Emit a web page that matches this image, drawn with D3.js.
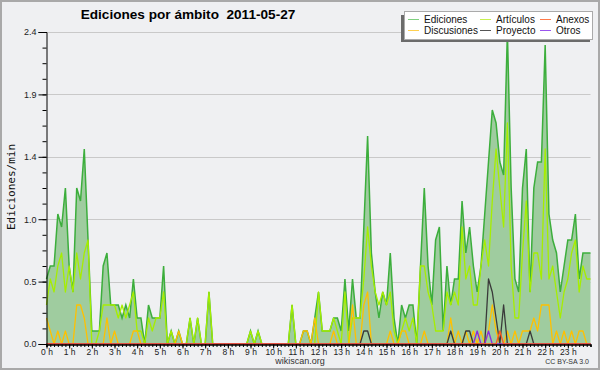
<!DOCTYPE html>
<html><head><meta charset="utf-8">
<script src="https://cdn.jsdelivr.net/npm/d3@7"></script>
<style>body{margin:0;background:#eff0f2}svg{display:block}</style>
</head><body>
<svg id="c" width="600" height="370"></svg>
<script>
const title = "Ediciones por ámbito  2011-05-27";
const hourLabels = d3.range(24).map(h => h + " h");
const yTickLabels = ["0.0","0.5","1.0","1.4","1.9","2.4"];
const seriesNames = ["Ediciones","Artículos","Anexos","Discusiones","Proyecto","Otros"];

const ediciones = [
0.5,0.6,0.6,1.0,0.9,1.2,0.6,0.4,1.2,1.1,1.5,0.8,
0.1,0.1,0.1,0.6,0.7,0.3,0.3,0.3,0.2,0.3,0.2,0.5,
0.2,0.2,0.0,0.3,0.2,0.2,0.2,0.6,0.0,0.1,0.0,0.1,
0,0,0.2,0,0.2,0,0,0.4,0,0,0,0,
0,0,0,0,0,0,0.1,0,0.1,0,0,0,
0,0,0,0,0,0.3,0,0,0.1,0.1,0,0.2,
0.4,0.1,0.1,0.1,0.2,0.2,0.1,0.5,0.1,0.5,0.2,0.2,
0.9,1.6,0.7,0.4,0.2,0.4,0.3,0.7,0.2,0.0,0.3,0.2,
0.3,0.3,0.0,0.6,1.2,0.6,0.3,0.8,0.9,0.1,0.6,0.3,
0.5,0.5,1.1,0.7,0.9,0.6,0.4,0.6,1.0,1.4,1.8,1.7,
1.4,1.3,2.4,1.2,0.5,0.4,1.2,1.5,0.4,1.2,1.4,1.4,
2.3,1.0,0.8,0.7,0.4,0.6,0.8,0.8,1.0,0.5,0.7,0.7,0.7];

const articulos = [
0.3,0.5,0.4,0.6,0.7,0.4,0.6,0.4,0.7,0.5,0.7,0.8,
0,0,0.1,0.3,0.3,0.3,0.3,0.2,0.3,0.2,0.3,0.4,
0.1,0.1,0,0.2,0.1,0.2,0.2,0.4,0,0.1,0,0,
0,0,0.2,0,0.2,0,0,0.4,0,0,0,0,
0,0,0,0,0,0,0.1,0,0.1,0,0,0,
0,0,0,0,0,0.3,0,0,0,0,0,0,
0.4,0.1,0.1,0.1,0.2,0.1,0,0.4,0,0.2,0.2,0.2,
0.5,0.9,0.6,0.4,0.3,0.4,0.3,0.4,0.1,0,0.1,0.2,
0.1,0.2,0,0.6,0.6,0.4,0.3,0.1,0.1,0.1,0.4,0.3,
0.4,0.3,0.9,0.5,0.6,0.3,0.3,0.6,0.8,0.6,1.1,1.5,
1.2,0.9,1.7,0.6,0.2,0.2,0.7,1.1,0.4,0.7,0.7,0.5,
1.5,0.5,0.6,0.4,0.2,0.4,0.5,0.7,0.8,0.4,0.6,0.5,0.5];

const discusiones = [
0.2,0.1,0,0.1,0,0.1,0,0,0.3,0.3,0.2,0,
0,0,0,0,0.2,0,0.1,0,0,0,0,0.1,
0.1,0,0,0,0,0,0,0,0,0,0,0.1,
0,0,0,0,0,0,0,0,0,0,0,0,
0,0,0,0,0,0,0,0,0,0,0,0,
0,0,0,0,0,0,0,0,0.1,0.1,0,0.2,
0,0,0,0,0.1,0,0,0,0,0.3,0,0,
0.3,0.4,0,0,0,0,0,0.1,0,0,0.1,0.1,
0,0,0,0,0.1,0,0,0,0,0,0,0.2,
0,0.1,0,0.1,0,0.1,0,0.1,0,0.1,0.3,0.1,
0,0,0.1,0,0.1,0,0.1,0.1,0.1,0.2,0.1,0.3,
0.3,0.3,0,0.1,0,0.1,0,0.1,0,0.1,0.1,0,0];

const proyecto = [
0,0,0,0,0,0,0,0,0,0,0,0,
0,0,0,0,0,0,0,0,0,0,0,0,
0,0,0,0,0,0,0,0,0,0,0,0,
0,0,0,0,0,0,0,0,0,0,0,0,
0,0,0,0,0,0,0,0,0,0,0,0,
0,0,0,0,0,0,0,0,0,0,0,0,
0,0,0,0,0,0,0,0,0,0,0,0,
0.1,0.1,0,0,0,0,0,0,0,0,0,0,
0,0,0,0,0,0,0,0,0,0,0,0.1,
0,0,0,0.1,0.1,0,0,0,0,0.5,0.4,0.2,
0,0.3,0,0,0,0,0,0,0.1,0,0,0,
0,0,0,0,0,0,0,0,0,0,0,0,0];

const otros = [
0,0,0,0,0,0,0,0,0,0,0,0,
0,0,0,0,0,0,0,0,0,0,0,0,
0,0,0,0,0,0,0,0,0,0,0,0,
0,0,0,0,0,0,0,0,0,0,0,0,
0,0,0,0,0,0,0,0,0,0,0,0,
0,0,0,0,0,0,0,0,0,0,0,0,
0,0,0,0,0,0,0,0,0,0,0,0,
0,0,0,0,0,0,0,0,0,0,0,0,
0,0,0,0,0,0,0,0,0,0,0,0,
0,0,0,0,0,0,0.1,0,0,0.1,0,0,
0,0,0,0,0,0,0,0,0,0,0,0,
0,0,0,0,0,0,0,0,0,0,0,0,0];

const anexos = [
0,0,0,0,0,0,0,0,0,0,0,0,
0,0,0,0,0,0,0,0,0,0,0,0,
0,0,0,0,0,0,0,0,0,0,0,0,
0,0,0,0,0,0,0,0,0,0,0,0,
0,0,0,0,0,0,0,0,0,0,0,0,
0,0,0,0,0,0,0,0,0,0,0,0,
0,0,0,0,0,0,0,0,0,0,0,0,
0,0,0,0,0,0,0,0,0,0,0,0,
0,0,0,0,0,0,0,0,0,0,0,0,
0,0,0,0,0,0,0,0,0,0,0,0,
0.1,0,0,0,0,0,0,0,0,0,0,0,
0,0,0,0,0,0,0,0,0,0,0,0,0];

const colors = {
  Ediciones:"#3cae3c", EdicionesFill:"#9fcc9f", Articulos:"#a6ee00",
  Anexos:"#ff5a1e", Discusiones:"#ffc000", Proyecto:"#3a3a3a", Otros:"#8a2be2"
};

const svg = d3.select("#c");
const W=600,H=370;
svg.append("rect").attr("x",1).attr("y",1).attr("width",W-2).attr("height",H-2)
  .attr("fill","#eff0f2").attr("stroke","#a9a9a9").attr("stroke-width",2);

const x = d3.scaleLinear().domain([0,144]).range([46.5,590.5]);
const y = d3.scaleLinear().domain([0,2.4]).range([344,32]);
const font = "'Liberation Sans', Arial, sans-serif";

// grid
const majorY = d3.range(6).map(k => k*0.48);
svg.append("g").selectAll("line").data(majorY).join("line")
  .attr("x1",46.5).attr("x2",590.5).attr("y1",d=>Math.round(y(d))+0.5).attr("y2",d=>Math.round(y(d))+0.5)
  .attr("stroke","#c9c9c9").attr("stroke-width",1);

// area + lines
const area = d3.area().x((d,i)=>x(i)).y0(y(0)).y1(d=>y(d));
const line = d3.line().x((d,i)=>x(i)).y(d=>y(d));
svg.append("path").datum(ediciones).attr("d",area).attr("fill",colors.EdicionesFill);
svg.append("path").datum(ediciones).attr("d",line).attr("fill","none").attr("stroke",colors.Ediciones).attr("stroke-width",1.5);
const others = [[articulos,colors.Articulos],[discusiones,colors.Discusiones],[proyecto,colors.Proyecto],[otros,colors.Otros],[anexos,colors.Anexos]];
others.forEach(([d,c])=>{
  svg.append("path").datum(d).attr("d",line).attr("fill","none").attr("stroke",c).attr("stroke-width",1.3).attr("stroke-linejoin","round");
});

// y axis
const yAxis = d3.axisLeft(y).tickValues(majorY).tickSize(8)
  .tickFormat((d,i)=>yTickLabels[i]).tickPadding(2);
const gy = svg.append("g").attr("transform","translate(46.5,0)").call(yAxis);
gy.select(".domain").attr("stroke","#000");
gy.selectAll("text").attr("font-family",font).attr("font-size",9).attr("fill","#222");
const yMinor = d3.axisLeft(y).tickValues(d3.range(0,21).map(k=>k*0.12)).tickSize(4).tickFormat("");
svg.append("g").attr("transform","translate(46.5,0)").call(yMinor).select(".domain").remove();

// x axis
const xMinor = d3.axisBottom(x).tickValues(d3.range(0,145)).tickSize(2.5).tickFormat("");
const gxm = svg.append("g").attr("transform","translate(0,344.5)").call(xMinor);
gxm.select(".domain").attr("stroke","#000").attr("stroke-width",1.5);
const xMajor = d3.axisBottom(x).tickValues(d3.range(0,144,6)).tickSize(4)
  .tickFormat((d,i)=>hourLabels[i]).tickPadding(0);
const gx = svg.append("g").attr("transform","translate(0,344.5)").call(xMajor);
gx.select(".domain").remove();
gx.selectAll("text").attr("font-family",font).attr("font-size",8.5).attr("fill","#222");
svg.selectAll(".tick line").attr("stroke","#000");

// title
svg.append("text").attr("x",188).attr("y",19).attr("text-anchor","middle")
  .style("white-space","pre")
  .attr("font-family",font).attr("font-weight","bold").attr("font-size",13.6).text(title);
// y label
svg.append("text").attr("transform","translate(15,187) rotate(-90)").attr("text-anchor","middle")
  .attr("font-family","'DejaVu Sans Mono', monospace").attr("font-size",11).attr("fill","#111").text("Ediciones/min");
// footer
svg.append("text").attr("x",300).attr("y",363.5).attr("text-anchor","middle")
  .attr("font-family",font).attr("font-size",9).attr("fill","#333").text("wikiscan.org");
svg.append("text").attr("x",589).attr("y",364).attr("text-anchor","end")
  .attr("font-family",font).attr("font-size",7).attr("fill","#333").text("CC BY-SA 3.0");

// legend
const lg = svg.append("g");
lg.append("rect").attr("x",401).attr("y",15).attr("width",189).attr("height",27).attr("fill","#6b6b6b");
lg.append("rect").attr("x",404.5).attr("y",11.5).attr("width",188).attr("height",28).attr("fill","#fff").attr("stroke","#aaa");
const legItems = [
  {n:seriesNames[0],c:"#7fd07f",col:0,row:0},
  {n:seriesNames[1],c:"#c8f050",col:1,row:0},
  {n:seriesNames[2],c:"#ff7a4a",col:2,row:0},
  {n:seriesNames[3],c:"#ffd050",col:0,row:1},
  {n:seriesNames[4],c:"#555",col:1,row:1},
  {n:seriesNames[5],c:"#9a55ee",col:2,row:1}
];
const colX=[408,480,540], rowY=[19,30];
legItems.forEach(it=>{
  lg.append("line").attr("x1",colX[it.col]).attr("x2",colX[it.col]+11)
    .attr("y1",rowY[it.row]+0.5).attr("y2",rowY[it.row]+0.5).attr("stroke",it.c).attr("stroke-width",1);
  lg.append("text").attr("x",colX[it.col]+16).attr("y",rowY[it.row]+3.5)
    .attr("font-family",font).attr("font-size",10).attr("fill","#111").text(it.n);
});
</script>
</body></html>
